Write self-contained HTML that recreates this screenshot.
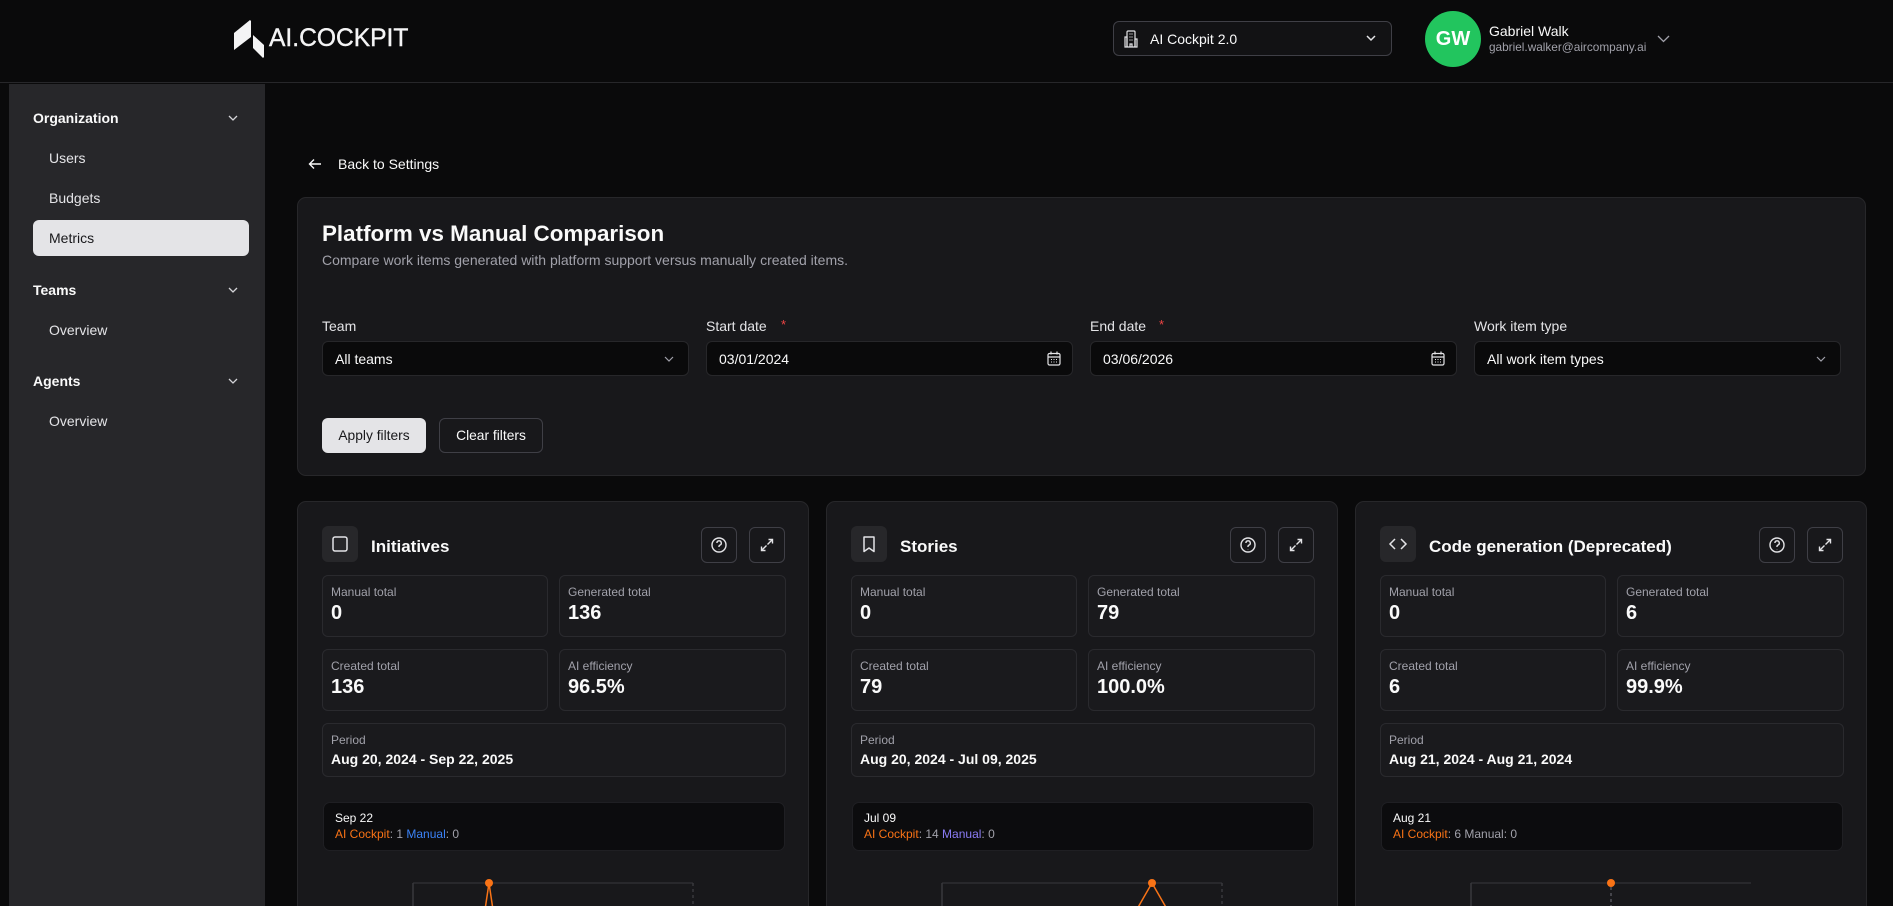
<!DOCTYPE html>
<html><head><meta charset="utf-8">
<style>
*{box-sizing:border-box;margin:0;padding:0}
html,body{width:1893px;height:906px;overflow:hidden;background:#0a0a0b;font-family:"Liberation Sans",Arial,sans-serif;color:#fafafa}
#root{position:relative;width:1893px;height:906px;overflow:hidden;background:#0a0a0b}
.a{position:absolute}
.t{position:absolute;white-space:nowrap;line-height:1}
.card{position:absolute;top:501px;width:512px;height:430px;background:#18181b;border:1px solid #27272a;border-radius:9px;overflow:hidden}
.ib{position:absolute;left:24px;top:24px;width:36px;height:36px;background:#27272a;border-radius:6px}
.ct{font-size:17px;font-weight:bold;color:#fafafa}
.btn{position:absolute;top:25px;width:36px;height:36px;border:1px solid #3f3f46;border-radius:6px;background:#18181b}
.sb{position:absolute;border:1px solid #2a2a2e;border-radius:6px;background:#1a1a1d}
.sl{position:absolute;left:8px;top:10px;font-size:12px;color:#a1a1aa;line-height:1;white-space:nowrap}
.sv{position:absolute;left:8px;top:27px;font-size:20px;font-weight:bold;color:#fafafa;line-height:1;white-space:nowrap}
.pv{position:absolute;left:8px;top:28px;font-size:14px;font-weight:bold;color:#fafafa;line-height:1;white-space:nowrap}
.tt{position:absolute;left:25px;top:300px;width:462px;height:49px;background:#0c0c0e;border:1px solid #1f1f23;border-radius:7px}
.tt1{position:absolute;left:11px;top:9px;font-size:12px;color:#fafafa;line-height:1;white-space:nowrap}
.tt2{position:absolute;left:11px;top:25px;font-size:12px;color:#a1a1aa;line-height:1;white-space:nowrap}
.or{color:#f97316}
.sidet{font-size:14px;color:#e4e4e7}
.sideh{font-size:14px;font-weight:bold;color:#fafafa}
.lbl{font-size:14px;color:#e4e4e7}
.inp{position:absolute;top:341px;width:367px;height:35px;background:#0a0a0b;border:1px solid #27272a;border-radius:6px}
.inp span{position:absolute;left:12px;top:10px;font-size:14px;line-height:1;color:#fafafa;white-space:nowrap}
.star{color:#ef4444;font-size:13px}
</style></head><body>
<div id="root">

<!-- Header -->
<div class="a" style="left:0;top:0;width:1893px;height:83px;background:#0a0a0b;border-bottom:1px solid #27272a"></div>
<svg class="a" style="left:234px;top:20px" width="31" height="39" viewBox="0 0 31 39">
  <polygon points="16,0 17,1 17,17 0,30 0,13" fill="#f4f4f5"/>
  <polygon points="19,15 30,25 30,37 29,38 19,28" fill="#f4f4f5"/>
</svg>
<div class="t" style="left:269px;top:27px;font-size:24.6px;color:#f4f4f5;-webkit-text-stroke:0.4px #f4f4f5">AI.COCKPIT</div>

<div class="a" style="left:1113px;top:21px;width:279px;height:35px;background:#121214;border:1px solid #3f3f46;border-radius:6px"></div>
<svg class="a" style="left:1124px;top:30px" width="14" height="18" viewBox="0 0 14 18" fill="none" stroke="#e4e4e7" stroke-width="1.2">
  <rect x="3" y="1" width="8" height="16" rx="1"/><path d="M1 7h2v10H1z M11 9h2v8h-2z"/>
  <path d="M5.5 4h1 M7.5 4h1 M5.5 7h1 M7.5 7h1 M5.5 10h1 M7.5 10h1 M6 17v-3h2v3"/>
</svg>
<div class="t" style="left:1150px;top:32px;font-size:14px;color:#fafafa">AI Cockpit 2.0</div>
<svg class="a" style="left:1366px;top:35px" width="10" height="7" viewBox="0 0 10 7" fill="none" stroke="#e4e4e7" stroke-width="1.5"><path d="M1 1l4 4 4-4"/></svg>

<div class="a" style="left:1425px;top:11px;width:56px;height:56px;border-radius:50%;background:#22c55e"></div>
<div class="t" style="left:1425px;top:29px;width:56px;text-align:center;font-size:20px;font-weight:bold;color:#fff">GW</div>
<div class="t" style="left:1489px;top:24px;font-size:14px;color:#fafafa">Gabriel Walk</div>
<div class="t" style="left:1489px;top:42px;font-size:11.8px;color:#a1a1aa">gabriel.walker@aircompany.ai</div>
<svg class="a" style="left:1657px;top:35px" width="13" height="8" viewBox="0 0 13 8" fill="none" stroke="#a1a1aa" stroke-width="1.3"><path d="M1 1l5.5 5.5L12 1"/></svg>

<!-- Sidebar -->
<div class="a" style="left:9px;top:84px;width:256px;height:822px;background:#27272a"></div>
<div class="t sideh" style="left:33px;top:111px">Organization</div>
<svg class="a" style="left:228px;top:115px" width="10" height="7" viewBox="0 0 10 7" fill="none" stroke="#d4d4d8" stroke-width="1.3"><path d="M1 1l4 4 4-4"/></svg>
<div class="t sidet" style="left:49px;top:151px">Users</div>
<div class="t sidet" style="left:49px;top:191px">Budgets</div>
<div class="a" style="left:33px;top:220px;width:216px;height:36px;background:#e4e4e7;border-radius:6px"></div>
<div class="t" style="left:49px;top:231px;font-size:14px;color:#18181b">Metrics</div>
<div class="t sideh" style="left:33px;top:283px">Teams</div>
<svg class="a" style="left:228px;top:287px" width="10" height="7" viewBox="0 0 10 7" fill="none" stroke="#d4d4d8" stroke-width="1.3"><path d="M1 1l4 4 4-4"/></svg>
<div class="t sidet" style="left:49px;top:323px">Overview</div>
<div class="t sideh" style="left:33px;top:374px">Agents</div>
<svg class="a" style="left:228px;top:378px" width="10" height="7" viewBox="0 0 10 7" fill="none" stroke="#d4d4d8" stroke-width="1.3"><path d="M1 1l4 4 4-4"/></svg>
<div class="t sidet" style="left:49px;top:414px">Overview</div>

<!-- Back link -->
<svg class="a" style="left:308px;top:158px" width="14" height="12" viewBox="0 0 14 12" fill="none" stroke="#fafafa" stroke-width="1.4"><path d="M13 6H1.5 M6 1.5L1.5 6 6 10.5"/></svg>
<div class="t" style="left:338px;top:157px;font-size:14px;color:#fafafa">Back to Settings</div>

<!-- Filter card -->
<div class="a" style="left:297px;top:197px;width:1569px;height:279px;background:#18181b;border:1px solid #27272a;border-radius:9px"></div>
<div class="t" style="left:322px;top:223px;font-size:22.4px;font-weight:bold;color:#fafafa">Platform vs Manual Comparison</div>
<div class="t" style="left:322px;top:253px;font-size:14px;color:#a1a1aa">Compare work items generated with platform support versus manually created items.</div>

<div class="t lbl" style="left:322px;top:319px">Team</div>
<div class="t lbl" style="left:706px;top:319px">Start date</div>
<div class="t star" style="left:781px;top:318px">*</div>
<div class="t lbl" style="left:1090px;top:319px">End date</div>
<div class="t star" style="left:1159px;top:318px">*</div>
<div class="t lbl" style="left:1474px;top:319px">Work item type</div>

<div class="inp" style="left:322px"><span>All teams</span>
  <svg class="a" style="left:341px;top:14px" width="10" height="7" viewBox="0 0 10 7" fill="none" stroke="#a1a1aa" stroke-width="1.2"><path d="M1 1l4 4 4-4"/></svg></div>
<div class="inp" style="left:706px"><span>03/01/2024</span>
  <svg class="a" style="left:340px;top:9px" width="14" height="15" viewBox="0 0 14 15" fill="none" stroke="#e4e4e7" stroke-width="1.2"><rect x="1" y="2.5" width="12" height="11.5" rx="1.5"/><path d="M1 6h12 M4 0.5v3 M10 0.5v3"/><path d="M4 8.5h1 M6.5 8.5h1 M9 8.5h1 M4 11h1 M6.5 11h1 M9 11h1" stroke-width="1.1"/></svg></div>
<div class="inp" style="left:1090px"><span>03/06/2026</span>
  <svg class="a" style="left:340px;top:9px" width="14" height="15" viewBox="0 0 14 15" fill="none" stroke="#e4e4e7" stroke-width="1.2"><rect x="1" y="2.5" width="12" height="11.5" rx="1.5"/><path d="M1 6h12 M4 0.5v3 M10 0.5v3"/><path d="M4 8.5h1 M6.5 8.5h1 M9 8.5h1 M4 11h1 M6.5 11h1 M9 11h1" stroke-width="1.1"/></svg></div>
<div class="inp" style="left:1474px"><span>All work item types</span>
  <svg class="a" style="left:341px;top:14px" width="10" height="7" viewBox="0 0 10 7" fill="none" stroke="#a1a1aa" stroke-width="1.2"><path d="M1 1l4 4 4-4"/></svg></div>

<div class="a" style="left:322px;top:418px;width:104px;height:35px;background:#e4e4e7;border-radius:6px"></div>
<div class="t" style="left:322px;top:429px;width:104px;text-align:center;font-size:13.8px;color:#18181b">Apply filters</div>
<div class="a" style="left:439px;top:418px;width:104px;height:35px;background:#18181b;border:1px solid #3f3f46;border-radius:6px"></div>
<div class="t" style="left:439px;top:429px;width:104px;text-align:center;font-size:13.8px;color:#fafafa">Clear filters</div>

<!-- Card 1 -->
<div class="card" style="left:297px">
  <div class="ib"><svg width="36" height="36" viewBox="0 0 36 36" fill="none" stroke="#e4e4e7" stroke-width="1.5"><rect x="11" y="11" width="14" height="14" rx="2"/></svg></div>
  <div class="t ct" style="left:73px;top:36px">Initiatives</div>
  <div class="btn" style="left:403px"><svg width="34" height="34" viewBox="0 0 34 34" fill="none" stroke="#e4e4e7" stroke-width="1.4"><circle cx="17" cy="17" r="7"/><path d="M14.9 15a2.2 2.2 0 1 1 3 2.1c-.6.3-.9.7-.9 1.3v.6"/><path d="M17 21.3v.2" stroke-width="1.8"/></svg></div>
  <div class="btn" style="left:451px"><svg width="34" height="34" viewBox="0 0 34 34" fill="none" stroke="#e4e4e7" stroke-width="1.4"><path d="M18.5 11.5h4v4 M22.5 11.5l-5 5 M15.5 22.5h-4v-4 M11.5 22.5l5-5"/></svg></div>
  <div class="sb" style="left:24px;top:73px;width:226px;height:62px"><div class="sl">Manual total</div><div class="sv">0</div></div>
  <div class="sb" style="left:261px;top:73px;width:227px;height:62px"><div class="sl">Generated total</div><div class="sv">136</div></div>
  <div class="sb" style="left:24px;top:147px;width:226px;height:62px"><div class="sl">Created total</div><div class="sv">136</div></div>
  <div class="sb" style="left:261px;top:147px;width:227px;height:62px"><div class="sl">AI efficiency</div><div class="sv">96.5%</div></div>
  <div class="sb" style="left:24px;top:221px;width:464px;height:54px"><div class="sl">Period</div><div class="pv">Aug 20, 2024 - Sep 22, 2025</div></div>
  <div class="tt"><div class="tt1">Sep 22</div><div class="tt2"><span class="or">AI Cockpit</span>: 1 <span style="color:#3b82f6">Manual</span>: 0</div></div>
  <svg class="a" style="left:-1px;top:368px" width="512" height="60" viewBox="0 0 512 60">
    <path d="M116 13H396" stroke="#2e2e33" stroke-width="1.5"/>
    <path d="M116 13V60" stroke="#38383d" stroke-width="1.5"/>
    <path d="M396 13V60" stroke="#38383d" stroke-width="1.5" stroke-dasharray="3 3"/>
    <path d="M185 60L192 13L199 60" fill="none" stroke="#f97316" stroke-width="1.5"/>
    <circle cx="192" cy="13" r="4" fill="#f97316"/>
  </svg>
</div>

<!-- Card 2 -->
<div class="card" style="left:826px">
  <div class="ib"><svg width="36" height="36" viewBox="0 0 36 36" fill="none" stroke="#e4e4e7" stroke-width="1.5" stroke-linejoin="round"><path d="M13 11h10v14.5l-5-3.5-5 3.5z"/></svg></div>
  <div class="t ct" style="left:73px;top:36px">Stories</div>
  <div class="btn" style="left:403px"><svg width="34" height="34" viewBox="0 0 34 34" fill="none" stroke="#e4e4e7" stroke-width="1.4"><circle cx="17" cy="17" r="7"/><path d="M14.9 15a2.2 2.2 0 1 1 3 2.1c-.6.3-.9.7-.9 1.3v.6"/><path d="M17 21.3v.2" stroke-width="1.8"/></svg></div>
  <div class="btn" style="left:451px"><svg width="34" height="34" viewBox="0 0 34 34" fill="none" stroke="#e4e4e7" stroke-width="1.4"><path d="M18.5 11.5h4v4 M22.5 11.5l-5 5 M15.5 22.5h-4v-4 M11.5 22.5l5-5"/></svg></div>
  <div class="sb" style="left:24px;top:73px;width:226px;height:62px"><div class="sl">Manual total</div><div class="sv">0</div></div>
  <div class="sb" style="left:261px;top:73px;width:227px;height:62px"><div class="sl">Generated total</div><div class="sv">79</div></div>
  <div class="sb" style="left:24px;top:147px;width:226px;height:62px"><div class="sl">Created total</div><div class="sv">79</div></div>
  <div class="sb" style="left:261px;top:147px;width:227px;height:62px"><div class="sl">AI efficiency</div><div class="sv">100.0%</div></div>
  <div class="sb" style="left:24px;top:221px;width:464px;height:54px"><div class="sl">Period</div><div class="pv">Aug 20, 2024 - Jul 09, 2025</div></div>
  <div class="tt"><div class="tt1">Jul 09</div><div class="tt2"><span class="or">AI Cockpit</span>: 14 <span style="color:#8b7cf6">Manual</span>: 0</div></div>
  <svg class="a" style="left:-1px;top:368px" width="512" height="60" viewBox="0 0 512 60">
    <path d="M116 13H396" stroke="#2e2e33" stroke-width="1.5"/>
    <path d="M116 13V60" stroke="#38383d" stroke-width="1.5"/>
    <path d="M396 13V60" stroke="#38383d" stroke-width="1.5" stroke-dasharray="3 3"/>
    <path d="M299 60L326 13L353 60" fill="none" stroke="#f97316" stroke-width="1.5"/>
    <circle cx="326" cy="13" r="4" fill="#f97316"/>
  </svg>
</div>

<!-- Card 3 -->
<div class="card" style="left:1355px">
  <div class="ib"><svg width="36" height="36" viewBox="0 0 36 36" fill="none" stroke="#e4e4e7" stroke-width="1.5"><path d="M15 13l-5 5 5 5 M21 13l5 5-5 5"/></svg></div>
  <div class="t ct" style="left:73px;top:36px">Code generation (Deprecated)</div>
  <div class="btn" style="left:403px"><svg width="34" height="34" viewBox="0 0 34 34" fill="none" stroke="#e4e4e7" stroke-width="1.4"><circle cx="17" cy="17" r="7"/><path d="M14.9 15a2.2 2.2 0 1 1 3 2.1c-.6.3-.9.7-.9 1.3v.6"/><path d="M17 21.3v.2" stroke-width="1.8"/></svg></div>
  <div class="btn" style="left:451px"><svg width="34" height="34" viewBox="0 0 34 34" fill="none" stroke="#e4e4e7" stroke-width="1.4"><path d="M18.5 11.5h4v4 M22.5 11.5l-5 5 M15.5 22.5h-4v-4 M11.5 22.5l5-5"/></svg></div>
  <div class="sb" style="left:24px;top:73px;width:226px;height:62px"><div class="sl">Manual total</div><div class="sv">0</div></div>
  <div class="sb" style="left:261px;top:73px;width:227px;height:62px"><div class="sl">Generated total</div><div class="sv">6</div></div>
  <div class="sb" style="left:24px;top:147px;width:226px;height:62px"><div class="sl">Created total</div><div class="sv">6</div></div>
  <div class="sb" style="left:261px;top:147px;width:227px;height:62px"><div class="sl">AI efficiency</div><div class="sv">99.9%</div></div>
  <div class="sb" style="left:24px;top:221px;width:464px;height:54px"><div class="sl">Period</div><div class="pv">Aug 21, 2024 - Aug 21, 2024</div></div>
  <div class="tt"><div class="tt1">Aug 21</div><div class="tt2"><span class="or">AI Cockpit</span>: 6 Manual: 0</div></div>
  <svg class="a" style="left:-1px;top:368px" width="512" height="60" viewBox="0 0 512 60">
    <path d="M116 13H396" stroke="#2e2e33" stroke-width="1.5"/>
    <path d="M116 13V60" stroke="#38383d" stroke-width="1.5"/>
    <path d="M256 17V60" stroke="#52525b" stroke-width="1.5" stroke-dasharray="3 3"/>
    <circle cx="256" cy="13" r="4" fill="#f97316"/>
  </svg>
</div>

</div>
</body></html>
